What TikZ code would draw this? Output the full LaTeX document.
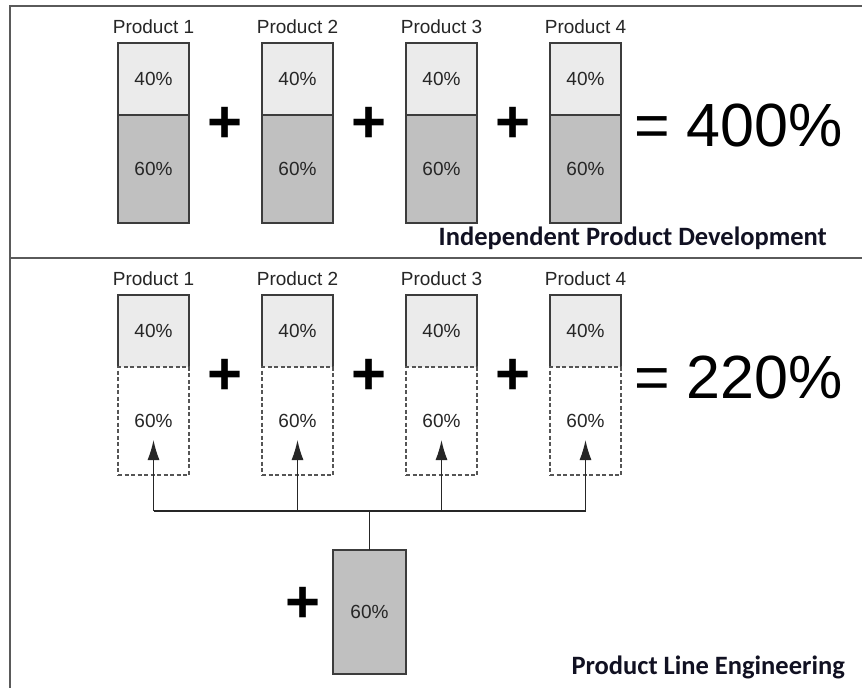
\documentclass[tikz,border=0pt]{standalone}
\usepackage{fontspec}
\setmainfont{Liberation Sans}
\newfontfamily\titlefont{Carlito}
\usetikzlibrary{positioning,arrows.meta}

\definecolor{framegray}{HTML}{5A5A5A}
\definecolor{boxline}{HTML}{3C3C3C}
\definecolor{dashline}{HTML}{555555}
\definecolor{lightfill}{HTML}{EBEBEB}
\definecolor{darkfill}{HTML}{C0C0C0}
\definecolor{txtgray}{HTML}{262626}
\definecolor{titleink}{HTML}{111122}

\tikzset{
  stackbox/.style={draw=boxline, line width=1.3pt, minimum width=71pt, inner sep=0pt, outer sep=0pt,
    font=\fontsize{19}{19}\selectfont, text=txtgray},
  toppart/.style={stackbox, fill=lightfill, minimum height=72pt},
  lowpart/.style={stackbox, fill=darkfill, minimum height=108pt},
  sharedtop/.style={stackbox, draw=none, fill=lightfill, minimum height=72pt},
  sharedpart/.style={stackbox, draw=dashline, dash pattern=on 4pt off 2.5pt, minimum height=108pt},
  boxedge/.style={draw=boxline, line width=1.3pt},
  prodlabel/.style={font=\fontsize{19}{19}\selectfont, text=txtgray},
  plussign/.style={font=\fontsize{60}{60}\selectfont\bfseries},
  sumtext/.style={font=\fontsize{61}{61}\selectfont, anchor=west, inner sep=0pt},
  sectiontitle/.style={font=\titlefont\fontsize{26.5}{26.5}\selectfont\bfseries, anchor=base east,
    inner sep=0pt, text=titleink},
  wire/.style={draw=txtgray, line width=1.3pt},
}

\begin{document}
\begin{tikzpicture}[x=1pt, y=-1pt]
    \useasboundingbox (0,0) rectangle (862,688);
    \fill[white] (0,0) rectangle (862,688);

    % frame and divider
    \coordinate (ftl) at (10,6);
    \coordinate (ftr) at (862,6);
    \coordinate (fbl) at (10,688);
    \coordinate (dl) at (10,258);
    \coordinate (dr) at (862,258);
    \draw[framegray, line width=2pt] (ftr) -- (ftl) -- (fbl);
    \draw[framegray, line width=2pt] (dl) -- (dr);

    % independent products
    \node[prodlabel] (p1) at (153.5,27) {Product 1};
    \node[prodlabel] (p2) at (297.5,27) {Product 2};
    \node[prodlabel] (p3) at (441.5,27) {Product 3};
    \node[prodlabel] (p4) at (585.5,27) {Product 4};

    \node[toppart] (a1) at (153.5,79) {40\%};
    \node[toppart] (a2) at (297.5,79) {40\%};
    \node[toppart] (a3) at (441.5,79) {40\%};
    \node[toppart] (a4) at (585.5,79) {40\%};
    \node[lowpart, below=0pt of a1] (b1) {60\%};
    \node[lowpart, below=0pt of a2] (b2) {60\%};
    \node[lowpart, below=0pt of a3] (b3) {60\%};
    \node[lowpart, below=0pt of a4] (b4) {60\%};

    \node[plussign] (s1) at (225.5,125) {+};
    \node[plussign] (s2) at (369.5,125) {+};
    \node[plussign] (s3) at (513.5,125) {+};
    \node[sumtext] (sum1) at (634,125) {= 400\%};

    \node[sectiontitle] (t1) at (827,245) {Independent Product Development};

    % product line
    \node[prodlabel] (q1) at (153.5,279) {Product 1};
    \node[prodlabel] (q2) at (297.5,279) {Product 2};
    \node[prodlabel] (q3) at (441.5,279) {Product 3};
    \node[prodlabel] (q4) at (585.5,279) {Product 4};

    \node[sharedtop] (e1) at (153.5,331) {40\%};
    \node[sharedtop] (e2) at (297.5,331) {40\%};
    \node[sharedtop] (e3) at (441.5,331) {40\%};
    \node[sharedtop] (e4) at (585.5,331) {40\%};
    \draw[boxedge] (e1.south west) |- (e1.north east) -- (e1.south east);
    \draw[boxedge] (e2.south west) |- (e2.north east) -- (e2.south east);
    \draw[boxedge] (e3.south west) |- (e3.north east) -- (e3.south east);
    \draw[boxedge] (e4.south west) |- (e4.north east) -- (e4.south east);
    \node[sharedpart, below=0pt of e1] (d1) {60\%};
    \node[sharedpart, below=0pt of e2] (d2) {60\%};
    \node[sharedpart, below=0pt of e3] (d3) {60\%};
    \node[sharedpart, below=0pt of e4] (d4) {60\%};

    \node[plussign] (s4) at (225.5,377) {+};
    \node[plussign] (s5) at (369.5,377) {+};
    \node[plussign] (s6) at (513.5,377) {+};
    \node[sumtext] (sum2) at (634,377) {= 220\%};

    % common part, shared by all four
    \node[lowpart, minimum width=73pt, minimum height=124pt] (core) at (369.5,612) {60\%};
    \node[plussign] (s7) at (303,605) {+};

    \coordinate (bus1) at (153.5,511);
    \coordinate (bus2) at (297.5,511);
    \coordinate (bus3) at (441.5,511);
    \coordinate (bus4) at (585.5,511);
    \coordinate (busc) at (369.5,511);
    \draw[wire] (bus1) -- (bus4);
    \draw[wire] (core) -- (busc);
    \draw[wire, -{Latex[length=20pt,width=12pt]}] (bus1) -- ([yshift=35pt]d1.south);
    \draw[wire, -{Latex[length=20pt,width=12pt]}] (bus2) -- ([yshift=35pt]d2.south);
    \draw[wire, -{Latex[length=20pt,width=12pt]}] (bus3) -- ([yshift=35pt]d3.south);
    \draw[wire, -{Latex[length=20pt,width=12pt]}] (bus4) -- ([yshift=35pt]d4.south);

    \node[sectiontitle] (t2) at (845,674) {Product Line Engineering};
\end{tikzpicture}
\end{document}
